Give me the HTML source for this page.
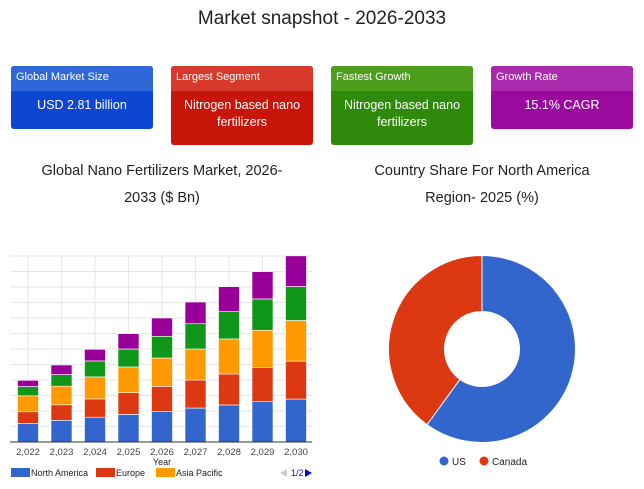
<!DOCTYPE html>
<html><head><meta charset="utf-8"><style>
body{margin:0;width:644px;height:489px;background:#fff;font-family:"Liberation Sans",sans-serif;position:relative;overflow:hidden}
.title{position:absolute;top:8px;left:0;width:644px;text-align:center;font-size:19px;color:#222}
.card{position:absolute;top:66px;width:142px;border-radius:3px;color:#fff;overflow:hidden}
.card .h{height:25px;line-height:22px;font-size:11px;padding-left:5px}
.card .b{text-align:center;font-size:12.5px;line-height:17px;padding-top:6px}
.sub{position:absolute;text-align:center;font-size:14.5px;color:#222;line-height:27px}
</style></head><body>
<div class="title">Market snapshot - 2026-2033</div>
<div class="card" style="left:11px;height:63px;background:#0d47d1"><div class="h" style="background:#2f67d8">Global Market Size</div><div class="b">USD 2.81 billion</div></div>
<div class="card" style="left:171px;height:79px;background:#c8150a"><div class="h" style="background:#d73a2d">Largest Segment</div><div class="b">Nitrogen based nano<br>fertilizers</div></div>
<div class="card" style="left:331px;height:79px;background:#2f8a0c"><div class="h" style="background:#4d9e1d">Fastest Growth</div><div class="b">Nitrogen based nano<br>fertilizers</div></div>
<div class="card" style="left:491px;height:63px;background:#9a0b9d"><div class="h" style="background:#a92aac">Growth Rate</div><div class="b">15.1% CAGR</div></div>
<div class="sub" style="left:12px;width:300px;top:158px">Global Nano Fertilizers Market, 2026-<br>2033 ($ Bn)</div>
<div class="sub" style="left:332px;width:300px;top:158px">Country Share For North America<br>Region- 2025 (%)</div>
<svg id="bar" width="644" height="489" style="position:absolute;left:0;top:0" font-family="Liberation Sans, sans-serif"></svg>
<script>
const categories=["2,022","2,023","2,024","2,025","2,026","2,027","2,028","2,029","2,030"];
const northAmerica=[1.2,1.4,1.6,1.78,1.98,2.19,2.39,2.6,2.77];
const europe=[0.75,1.0,1.18,1.4,1.61,1.81,2.0,2.22,2.45];
const asiaPacific=[1.03,1.2,1.42,1.66,1.83,2.0,2.26,2.39,2.62];
const latinAmerica=[0.6,0.75,1.03,1.16,1.4,1.63,1.76,2.02,2.19];
const mea=[0.4,0.62,0.75,0.99,1.18,1.4,1.61,1.76,1.98];
const pieLabels=["US","Canada"];
const pieValues=[60,40];
const NS="http://www.w3.org/2000/svg";
const svg=document.getElementById('bar');
function mk(t,a,p){const e=document.createElementNS(NS,t);for(const k in a)e.setAttribute(k,a[k]);(p||svg).appendChild(e);return e;}
const y0=442,unit=15.5,yMax=12;
const yS=v=>y0-v*unit;
const xS=i=>28+i*33.5;
for(let g=0;g<=yMax;g++){const l=mk('line',{x1:10,x2:312,y1:yS(g),y2:yS(g),stroke:'#e6e6e6','stroke-width':1});

}
categories.forEach((c,i)=>{const l=mk('line',{x1:xS(i),x2:xS(i),y1:yS(yMax),y2:y0,stroke:'#e6e6e6'});

});
const series=[[northAmerica,'#3366cc','north-america'],[europe,'#dc3912','europe'],[asiaPacific,'#ff9900','asia-pacific'],[latinAmerica,'#109618','latin-america'],[mea,'#990099','middle-east-africa']];
categories.forEach((c,i)=>{let acc=0;series.forEach(s=>{const v=s[0][i];const r=mk('rect',{x:xS(i)-10.5,y:yS(acc+v),width:21,height:v*unit,fill:s[1],stroke:'#fff','stroke-width':0.6});

acc+=v;});
const t=mk('text',{x:xS(i),y:455,'font-size':9.5,'text-anchor':'middle',fill:'#444'});t.textContent=c;

});
const ax=mk('line',{x1:10,x2:312,y1:y0,y2:y0,stroke:'#333'});


const xt=mk('text',{x:162,y:465,'font-size':9,'text-anchor':'middle',fill:'#222'});xt.textContent='Year';


const leg=[['North America','#3366cc',11],['Europe','#dc3912',96],['Asia Pacific','#ff9900',156]];
leg.forEach(l=>{const g=mk('g',{});


mk('rect',{x:l[2],y:468,width:19,height:9,fill:l[1]},g);const t=mk('text',{x:l[2]+20,y:476,'font-size':9,fill:'#222'},g);t.textContent=l[0];});
const pg=mk('g',{});


mk('path',{d:'M280 473 L287 469 L287 477 Z',fill:'#ccc'},pg);
const pt=mk('text',{x:291,y:476,'font-size':9,fill:'#0011cc'},pg);pt.textContent='1/2';
mk('path',{d:'M305 469 L312 473 L305 477 Z',fill:'#0011cc'},pg);
const cx=482,cy=349,R=93.5,r=37.5;const tot=pieValues.reduce((a,b)=>a+b,0);const pc=['#3366cc','#dc3912'];
let a0=0;pieValues.forEach((v,i)=>{const a1=a0+v/tot*2*Math.PI;const big=(a1-a0)>Math.PI?1:0;
const P=(rad,a)=>[cx+rad*Math.sin(a),cy-rad*Math.cos(a)];
const [x1,y1]=P(R,a0),[x2,y2]=P(R,a1),[x3,y3]=P(r,a1),[x4,y4]=P(r,a0);
const p=mk('path',{d:`M${x1} ${y1} A${R} ${R} 0 ${big} 1 ${x2} ${y2} L${x3} ${y3} A${r} ${r} 0 ${big} 0 ${x4} ${y4} Z`,fill:pc[i],stroke:'#fff','stroke-width':1});

a0=a1;});
const px=[444,484];pieLabels.forEach((l,i)=>{const g=mk('g',{});


mk('circle',{cx:px[i],cy:461,r:4.5,fill:pc[i]},g);const t=mk('text',{x:px[i]+8,y:465,'font-size':10,fill:'#222'},g);t.textContent=l;});
</script>
</body></html>
